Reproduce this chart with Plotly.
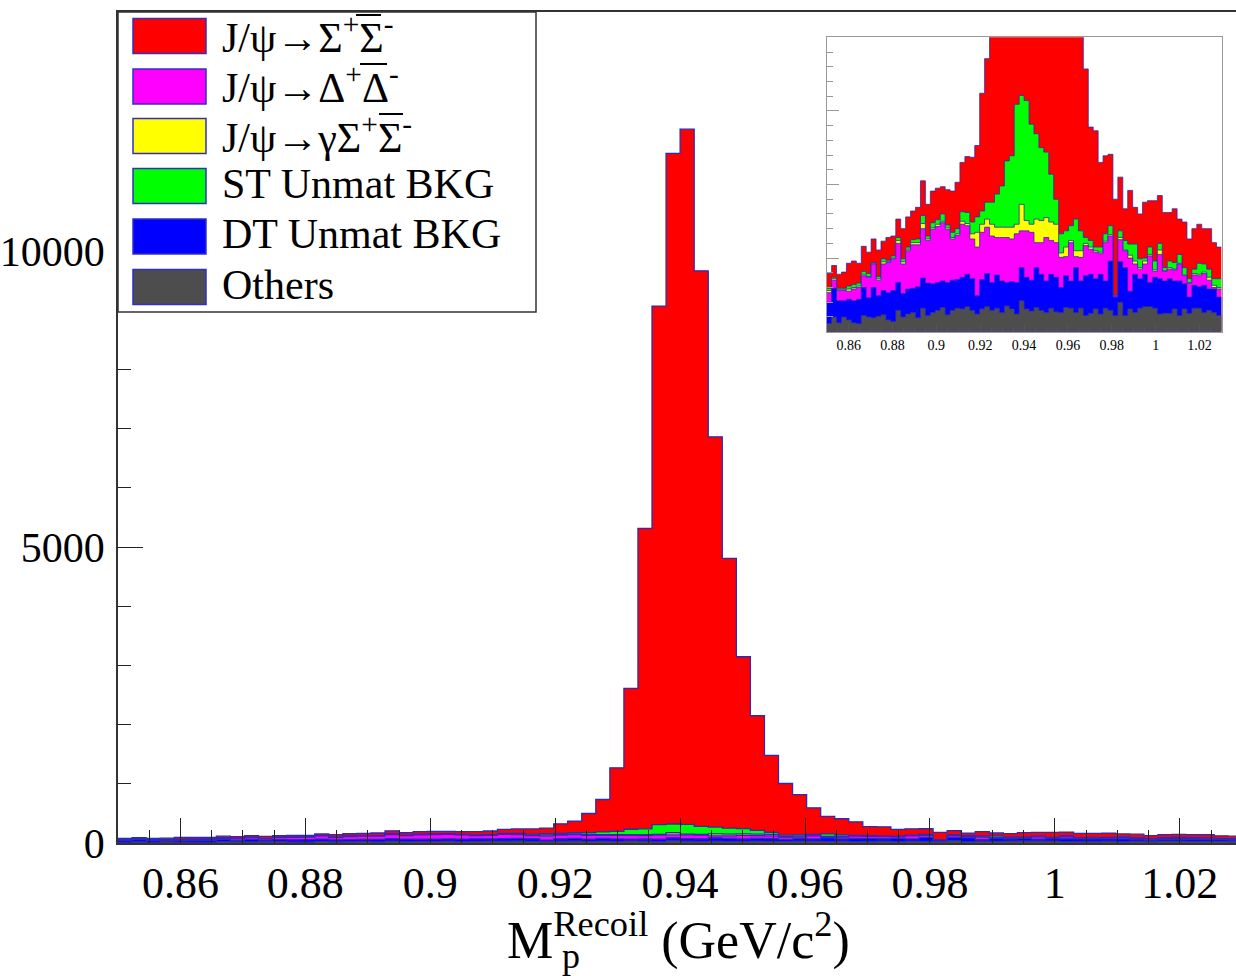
import numpy as np
import plotly.graph_objects as go

# ---------------- data (80 bins, 0.85 - 1.03 GeV/c^2) ----------------
bin_low, bin_high, n_bins = 0.85, 1.03, 80

others = [11, 20, 12, 20, 16, 12, 11, 22, 20, 19, 21, 23, 16, 14, 29, 20, 24, 26, 19, 32,
          22, 26, 29, 33, 23, 29, 32, 31, 34, 29, 24, 31, 34, 29, 32, 26, 35, 31, 24, 42,
          31, 28, 33, 29, 26, 32, 27, 26, 33, 32, 26, 32, 22, 25, 31, 24, 32, 29, 22, 40,
          22, 31, 26, 32, 34, 34, 32, 24, 25, 25, 31, 22, 31, 25, 32, 32, 26, 29, 26, 22]
dt_unmat = [29, 39, 30, 22, 28, 30, 33, 38, 26, 41, 28, 33, 37, 42, 38, 32, 34, 33, 42, 41,
            44, 39, 38, 36, 44, 41, 39, 43, 44, 43, 25, 40, 45, 38, 45, 43, 32, 37, 43, 45,
            43, 42, 54, 49, 43, 46, 47, 34, 43, 37, 61, 37, 54, 53, 41, 54, 37, 67, 25, 55,
            65, 24, 52, 40, 44, 33, 42, 48, 44, 47, 38, 47, 34, 22, 31, 29, 37, 29, 32, 25]
delta_delta = [13, 11, 14, 14, 11, 16, 16, 16, 28, 32, 21, 36, 41, 43, 53, 40, 52, 59, 57, 67,
               58, 74, 76, 79, 72, 56, 60, 72, 66, 54, 66, 64, 63, 63, 51, 59, 61, 58, 66, 50,
               63, 65, 34, 43, 59, 46, 47, 41, 26, 52, 15, 32, 41, 34, 36, 28, 52, 34, 1, 30,
               23, 45, 14, 13, 14, 36, 8, 33, 13, 13, 15, 23, 11, 19, 14, 15, 16, 12, 2, 11]
gamma_sigma = [3, 2, 1, 1, 3, 2, 2, 2, 1, 1, 2, 3, 1, 1, 4, 3, 2, 3, 3, 7,
               2, 2, 3, 2, 2, 2, 2, 4, 3, 7, 20, 11, 11, 16, 14, 14, 14, 16, 13, 36,
               14, 11, 32, 30, 27, 25, 25, 6, 13, 3, 8, 9, 3, 3, 2, 2, 2, 2, 1, 3,
               1, 4, 4, 2, 4, 2, 2, 6, 1, 2, 1, 1, 1, 1, 2, 2, 2, 4, 3, 2]
st_unmat = [3, 2, 2, 2, 4, 4, 4, 4, 4, 1, 3, 4, 2, 3, 4, 4, 3, 4, 5, 11,
            4, 7, 6, 10, 4, 7, 7, 13, 15, 16, 21, 18, 23, 30, 45, 56, 90, 97, 163, 148,
            163, 136, 116, 99, 89, 65, 34, 26, 22, 20, 43, 27, 8, 9, 5, 7, 10, 12, 1, 9,
            13, 15, 23, 12, 4, 10, 12, 9, 4, 9, 9, 12, 10, 5, 6, 15, 11, 11, 9, 12]
sigma_sigma = [20, 16, 19, 22, 31, 32, 27, 34, 29, 32, 36, 24, 31, 27, 25, 41, 41, 39, 43, 47,
               43, 43, 43, 37, 48, 56, 63, 67, 76, 88, 97, 160, 195, 322, 548, 1072, 2381, 5077, 8762, 11329,
               11747, 9385, 6594, 4559, 2903, 1936, 1301, 872, 682, 450, 297, 273, 229, 154, 158, 115, 106, 97, 130, 73,
               43, 73, 50, 61, 76, 63, 82, 65, 75, 66, 73, 48, 62, 54, 55, 53, 48, 55, 49, 43]

# stack order: bottom -> top
stack_names = ["Others", "DT Unmat BKG", "J/ψ→Δ+Δ-", "J/ψ→γΣ+Σ-", "ST Unmat BKG", "J/ψ→Σ+Σ-"]
stack_values = [others, dt_unmat, delta_delta, gamma_sigma, st_unmat, sigma_sigma]
stack_colors = ["#4d4d4d", "#0000ff", "#ff00ff", "#ffff00", "#00ff00", "#ff0000"]

legend_labels = [
    "J/ψ→Σ<sup>+</sup>Σ<sup>-</sup>",
    "J/ψ→Δ<sup>+</sup>Δ<sup>-</sup>",
    "J/ψ→γΣ<sup>+</sup>Σ<sup>-</sup>",
    "ST Unmat BKG",
    "DT Unmat BKG",
    "Others",
]
legend_colors = ["#ff0000", "#ff00ff", "#ffff00", "#00ff00", "#0000ff", "#4d4d4d"]

x_tick_vals = [0.86, 0.88, 0.90, 0.92, 0.94, 0.96, 0.98, 1.00, 1.02]
x_tick_text = ["0.86", "0.88", "0.9", "0.92", "0.94", "0.96", "0.98", "1", "1.02"]
y_tick_vals = [0, 5000, 10000]
y_tick_text = ["0", "5000", "10000"]

# ---------------- figure ----------------
W, H = 1236, 976
ML, MR, MT, MB = 118, 0, 12, 133
PW, PH = W - ML - MR, H - MT - MB
FONT = "Liberation Serif"
LINE = "#2b2bb8"


def px(x):
    return (x - ML) / PW


def py(y):
    return (H - MB - y) / PH


edges = np.linspace(bin_low, bin_high, n_bins + 1)
cumulative = np.cumsum(np.array(stack_values, dtype=float), axis=0)

fig = go.Figure()
for xa, ya, lw in (("x", "y", 1.3), ("x2", "y2", 0.8)):
    for i in reversed(range(len(stack_values))):
        yy = np.append(cumulative[i], cumulative[i][-1])
        fig.add_trace(go.Scatter(
            x=edges, y=yy, mode="lines", xaxis=xa, yaxis=ya,
            line=dict(shape="hv", color=LINE, width=lw),
            fill="tozeroy", fillcolor=stack_colors[i],
            name=stack_names[i], showlegend=False, hoverinfo="skip"))

axis_common = dict(showgrid=False, zeroline=False, showline=True, automargin=False)

fig.update_layout(
    width=W, height=H,
    margin=dict(l=ML, r=MR, t=MT, b=MB, pad=0, autoexpand=False),
    paper_bgcolor="white", plot_bgcolor="white",
    font=dict(family=FONT, color="black"),
    showlegend=False,
    xaxis=dict(**axis_common, range=[0.85, 1.029], domain=[0, 1], anchor="y",
               linecolor="#333333", linewidth=1.5, mirror=True,
               tickmode="array", tickvals=x_tick_vals, ticktext=x_tick_text,
               ticks="inside", ticklen=25, tickwidth=1.2, tickcolor="#222222",
               minor=dict(ticks="inside", ticklen=13, tickwidth=1.2, tickcolor="#222222",
                          tickmode="linear", tick0=0.85, dtick=0.005),
               tickfont=dict(size=44, family=FONT)),
    yaxis=dict(**axis_common, range=[0, 14040], domain=[0, 1], anchor="x",
               linecolor="#333333", linewidth=1.5,
               tickmode="array", tickvals=y_tick_vals, ticktext=y_tick_text,
               ticks="inside", ticklen=25, tickwidth=1.2, tickcolor="#222222",
               ticklabelstandoff=3,
               minor=dict(ticks="inside", ticklen=13, tickwidth=1.2, tickcolor="#222222",
                          tickmode="linear", tick0=0, dtick=1000),
               tickfont=dict(size=42, family=FONT)),
    xaxis2=dict(**axis_common, range=[0.85, 1.03], anchor="y2",
                domain=[px(826.7), px(1221.5)],
                linecolor="#999999", linewidth=1, mirror=True,
                tickmode="array", tickvals=x_tick_vals, ticktext=x_tick_text,
                ticks="inside", ticklen=8, tickwidth=1, tickcolor="#555555",
                minor=dict(ticks="inside", ticklen=4, tickwidth=1, tickcolor="#555555",
                           tickmode="linear", tick0=0.85, dtick=0.005),
                tickfont=dict(size=14, family=FONT)),
    yaxis2=dict(**axis_common, range=[0, 400], anchor="x2",
                domain=[py(331.7), py(37.3)],
                linecolor="#999999", linewidth=1, mirror=True,
                showticklabels=False,
                tickmode="linear", tick0=0, dtick=100,
                ticks="inside", ticklen=12, tickwidth=1, tickcolor="#999999",
                minor=dict(ticks="inside", ticklen=6, tickwidth=1, tickcolor="#999999",
                           tickmode="linear", tick0=0, dtick=20)),
)

# ---------------- legend (ROOT style box) ----------------
shapes = [dict(type="rect", xref="paper", yref="paper",
               x0=px(118), x1=px(536), y0=py(312), y1=py(12),
               line=dict(color="#333333", width=1.5), fillcolor="white", layer="above")]
annotations = []
row_centers = [36, 86.5, 136, 186, 236.5, 287]
for lab, col, yc in zip(legend_labels, legend_colors, row_centers):
    shapes.append(dict(type="rect", xref="paper", yref="paper",
                       x0=px(133), x1=px(206), y0=py(yc + 17.5), y1=py(yc - 17.5),
                       line=dict(color="#3030c0", width=1.5), fillcolor=col, layer="above"))
    annotations.append(dict(xref="paper", yref="paper", x=px(220), y=py(yc - 2),
                            xanchor="left", yanchor="middle", showarrow=False,
                            text=lab, font=dict(size=42, family=FONT, color="black")))

# overbars of the anti-particles in the legend (ROOT #bar{...})
overbars = [(356, 381, 15), (360, 387, 64), (379, 403, 114)]
for x0, x1, yb in overbars:
    shapes.append(dict(type="line", xref="paper", yref="paper",
                       x0=px(x0), x1=px(x1), y0=py(yb), y1=py(yb),
                       line=dict(color="black", width=2), layer="above"))

# x-axis title: M_p^Recoil (GeV/c^2)
annotations.append(dict(xref="paper", yref="paper", x=px(505), y=py(937),
                        xanchor="left", yanchor="middle", showarrow=False,
                        text="M<sup>Recoil</sup> (GeV/c<sup>2</sup>)",
                        font=dict(size=52, family=FONT, color="black")))
annotations.append(dict(xref="paper", yref="paper", x=px(560), y=py(956),
                        xanchor="left", yanchor="middle", showarrow=False,
                        text="p", font=dict(size=36, family=FONT, color="black")))

fig.update_layout(shapes=shapes, annotations=annotations)

fig.write_html("out.html", config={"displayModeBar": False},
               post_script="document.body.style.margin='0px';")
